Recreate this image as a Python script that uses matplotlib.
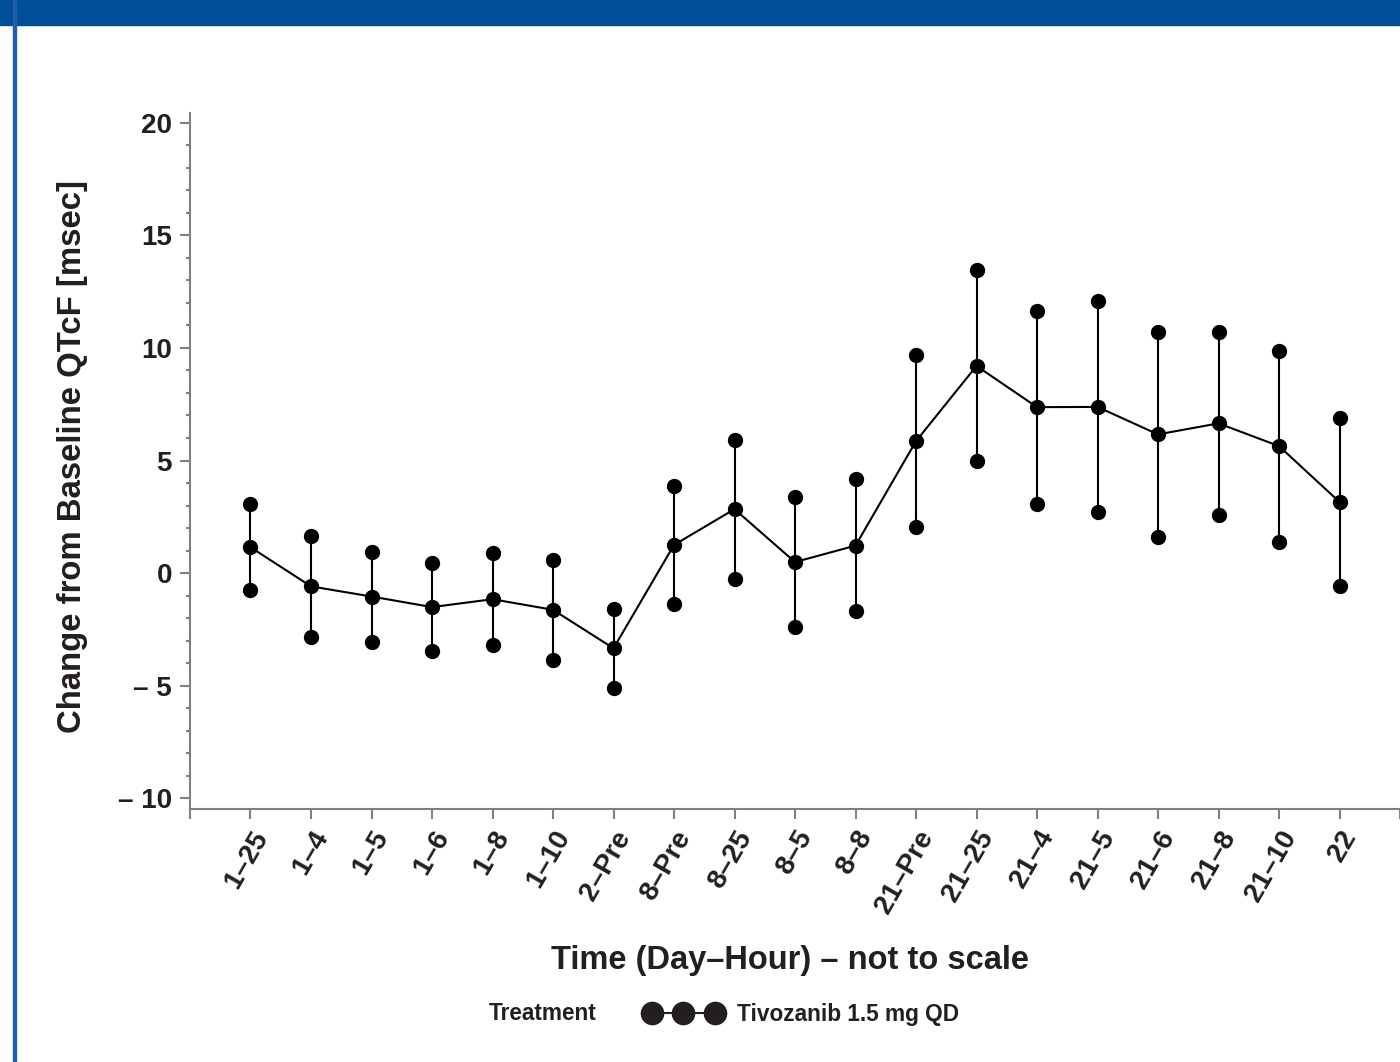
import matplotlib.pyplot as plt
from matplotlib.lines import Line2D
from matplotlib.patches import Rectangle
from matplotlib.ticker import MultipleLocator

# data: mean change and the interval ends (msec)
time_labels = ['1–25', '1–4', '1–5', '1–6', '1–8', '1–10', '2–Pre', '8–Pre', '8–25',
               '8–5', '8–8', '21–Pre', '21–25', '21–4', '21–5', '21–6', '21–8', '21–10', '22']
mean_change = [1.15, -0.59, -1.04, -1.51, -1.16, -1.63, -3.34, 1.25, 2.84,
               0.49, 1.22, 5.86, 9.20, 7.37, 7.38, 6.16, 6.65, 5.64, 3.16]
upper_ci = [3.06, 1.64, 0.94, 0.47, 0.91, 0.60, -1.58, 3.87, 5.90,
            3.40, 4.18, 9.69, 13.44, 11.64, 12.07, 10.71, 10.71, 9.88, 6.91]
lower_ci = [-0.77, -2.84, -3.04, -3.46, -3.20, -3.84, -5.09, -1.36, -0.25,
            -2.41, -1.70, 2.04, 4.96, 3.06, 2.70, 1.61, 2.58, 1.40, -0.56]
y_ticks = [-10, -5, 0, 5, 10, 15, 20]
y_tick_labels = ['– 10', '– 5', '0', '5', '10', '15', '20']

plt.rcParams['font.family'] = ['Liberation Sans', 'DejaVu Sans']
plt.rcParams['font.weight'] = 'bold'

txt = '#231f20'
grey = '#808080'

fig = plt.figure(figsize=(14, 10.62), dpi=100)
ax = fig.add_axes([190 / 1400, 1 - 809.3 / 1062, 1 - 190 / 1400, (809.3 - 113.3) / 1062])

# header bar and left rule
fig.patches.append(Rectangle((0, 1 - 25 / 1062), 1, 25 / 1062, transform=fig.transFigure,
                             color='#004f98', zorder=0))
fig.patches.append(Rectangle((13 / 1400, 0), 3 / 1400, 1, transform=fig.transFigure,
                             color='#1f5fa8', zorder=0))

x = list(range(len(time_labels)))
ax.vlines(x, lower_ci, upper_ci, color='black', lw=1.5, zorder=2)
ax.plot(x, upper_ci, 'o', color='black', ms=10, zorder=3)
ax.plot(x, lower_ci, 'o', color='black', ms=10, zorder=3)
ax.plot(x, mean_change, '-o', color='black', ms=10, lw=1.5, zorder=3)

ax.set_xlim(-1, 19)
ax.set_ylim(-10.49, 20.42)
ax.set_xticks(x)
ax.set_xticklabels(time_labels, rotation=60, ha='right', va='top', rotation_mode='anchor')
ax.set_xticks([-1, 19], minor=True)
ax.set_yticks(y_ticks)
ax.set_yticklabels(y_tick_labels)
ax.yaxis.set_minor_locator(MultipleLocator(1))

for s in ['top', 'right']:
    ax.spines[s].set_visible(False)
for s in ['left', 'bottom']:
    ax.spines[s].set_color(grey)
    ax.spines[s].set_linewidth(1.5)

ax.tick_params(axis='both', which='major', labelsize=20, colors=grey, labelcolor=txt,
               width=1.5, length=7, pad=6)
ax.tick_params(axis='y', which='minor', colors=grey, width=1.5, length=3)
ax.tick_params(axis='x', which='minor', colors=grey, width=1.5, length=7)
ax.tick_params(axis='x', which='major', pad=5)

fig.text(73 / 1400, 1 - 457 / 1062, 'Change from Baseline QTcF [msec]', rotation=90,
         ha='center', va='center', fontsize=23.7, color=txt, fontweight='bold')
fig.text(790 / 1400, 1 - 961 / 1062, 'Time (Day–Hour) – not to scale',
         ha='center', va='center', fontsize=23.5, color=txt, fontweight='bold')

# legend
fig.text(543 / 1400, 1 - 1014 / 1062, 'Treatment', ha='center', va='center',
         fontsize=16.3, color=txt, fontweight='bold')
handle = Line2D([], [], color=txt, marker='o', ms=16, lw=1.5)
fig.legend([handle], ['Tivozanib 1.5 mg QD'], loc='center left',
           bbox_to_anchor=(645 / 1400, 1 - 1014 / 1062), frameon=False, numpoints=3,
           handlelength=3.4, handletextpad=0.65, borderpad=0, borderaxespad=0,
           prop={'size': 16.3, 'weight': 'bold'}, labelcolor=txt)

fig.savefig('out.png', dpi=100)
